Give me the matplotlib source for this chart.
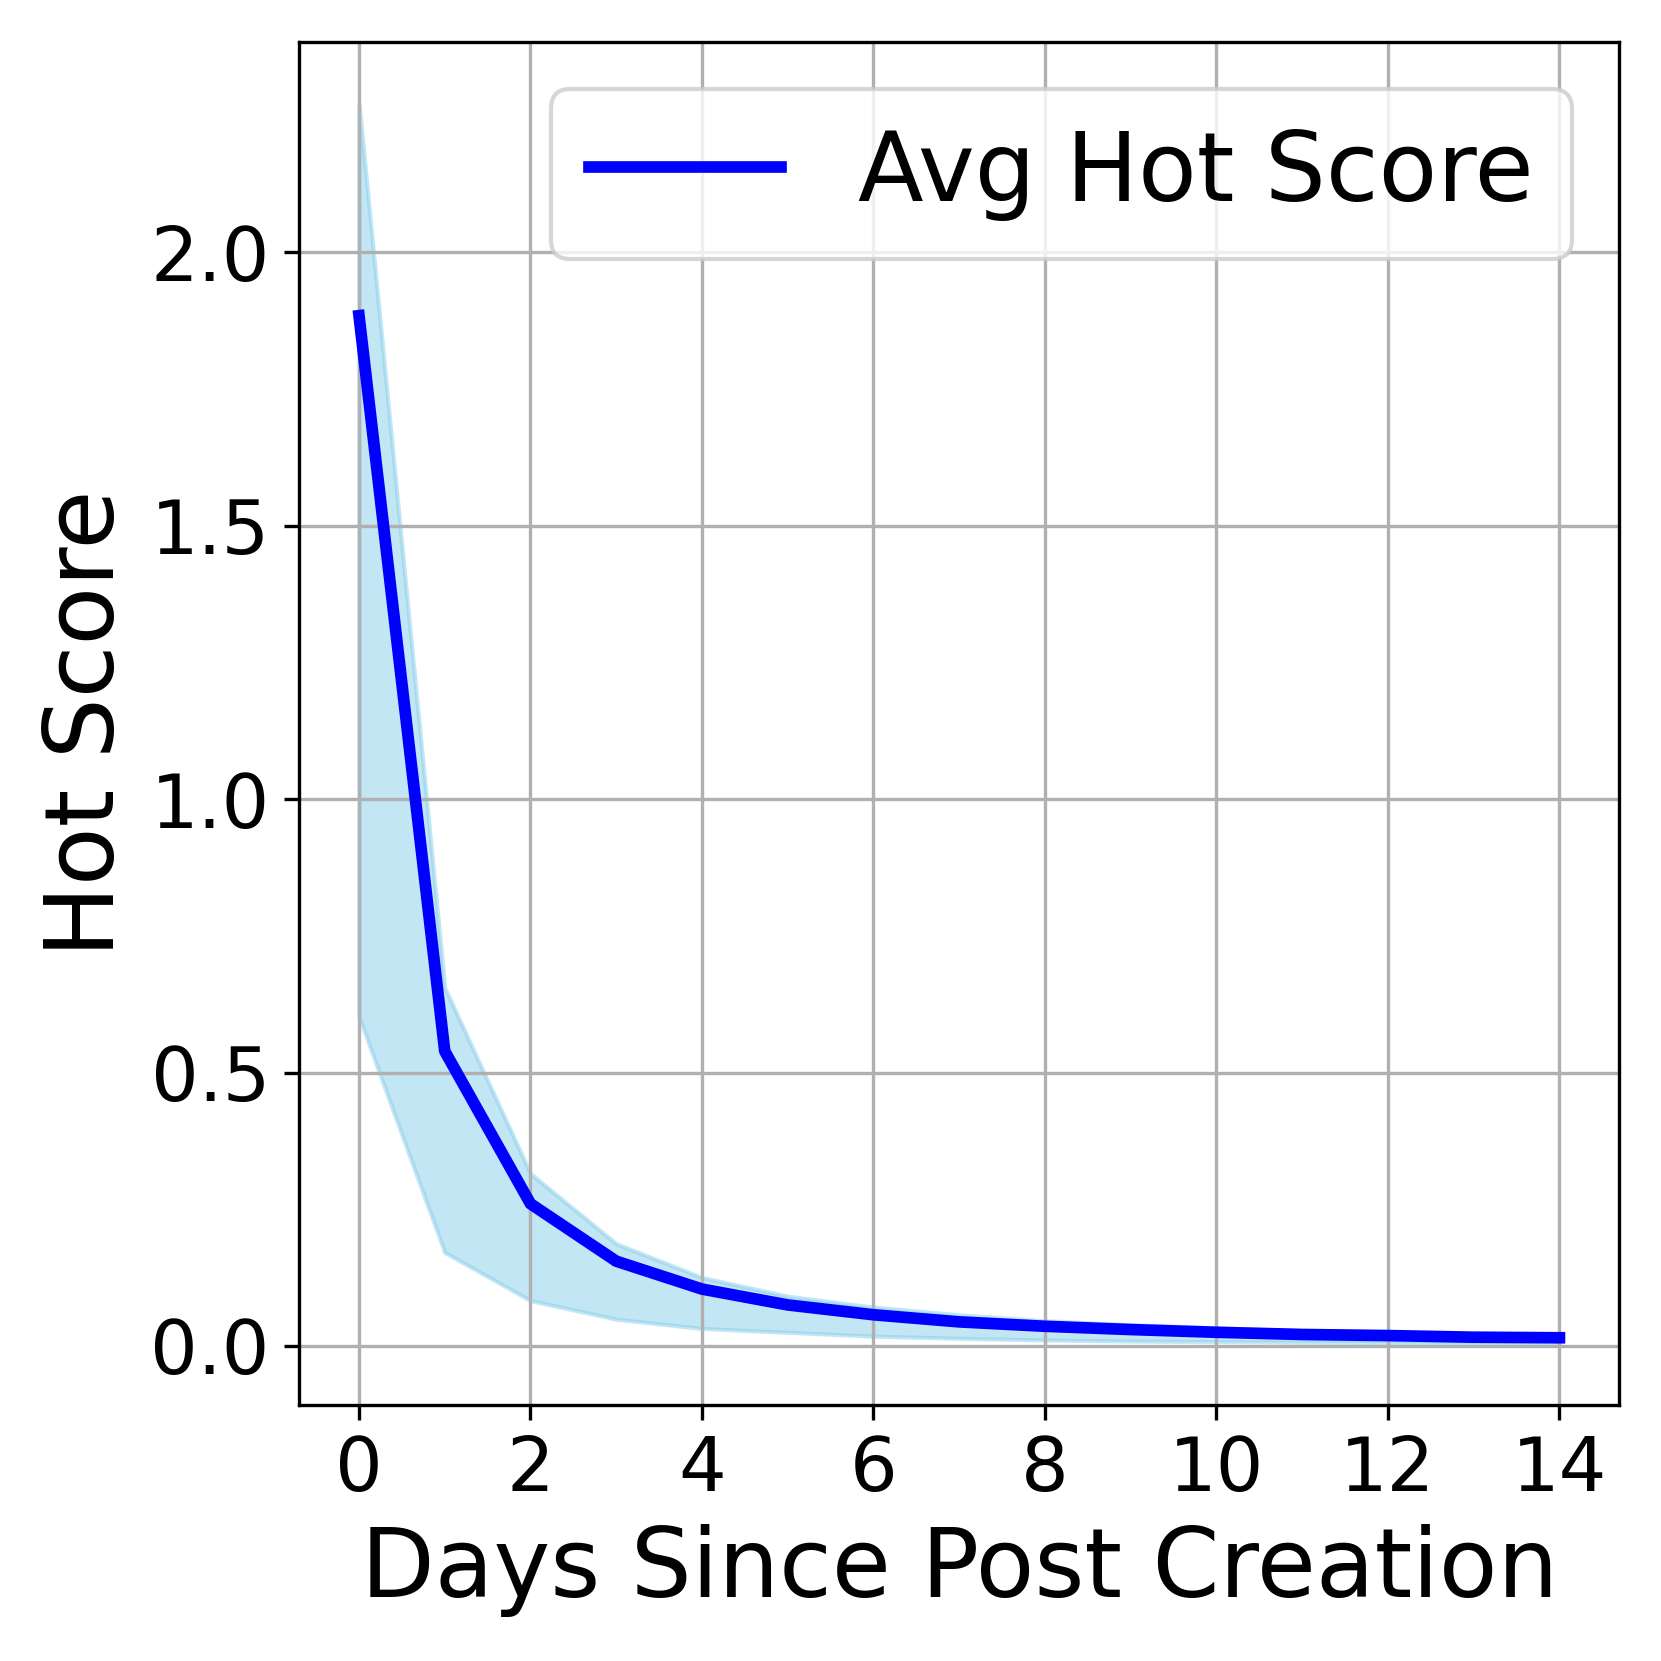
import numpy as np
import matplotlib
matplotlib.use('Agg')
import matplotlib.pyplot as plt

# values
days = list(range(15))
avg_hot = [1.884, 0.539, 0.260, 0.155, 0.104, 0.075, 0.057, 0.044, 0.036,
           0.030, 0.025, 0.021, 0.019, 0.016, 0.015]
upper = [2.272, 0.655, 0.315, 0.187, 0.125, 0.091, 0.071, 0.057, 0.046,
         0.039, 0.033, 0.028, 0.025, 0.022, 0.020]
lower = [0.602, 0.171, 0.083, 0.049, 0.032, 0.025, 0.018, 0.014, 0.011,
         0.009, 0.008, 0.007, 0.006, 0.005, 0.005]

fig = plt.figure(figsize=(1661/300, 1661/300), dpi=300)
ax = fig.add_axes([0.180, 0.154, 0.795, 0.821])

ax.fill_between(days, lower, upper, color='skyblue', alpha=0.5)
ax.plot(days, avg_hot, color='blue', linewidth=2.8, label='Avg Hot Score')

ax.set_xticks(range(0, 15, 2))
ax.set_yticks([0.0, 0.5, 1.0, 1.5, 2.0])
ax.tick_params(labelsize=18)
ax.set_xlabel('Days Since Post Creation', fontsize=23)
ax.set_ylabel('Hot Score', fontsize=23)
ax.grid(True, color='#b0b0b0', linewidth=0.8)
ax.legend(fontsize=23, loc='upper right')

fig.savefig('out.png', dpi=300)
